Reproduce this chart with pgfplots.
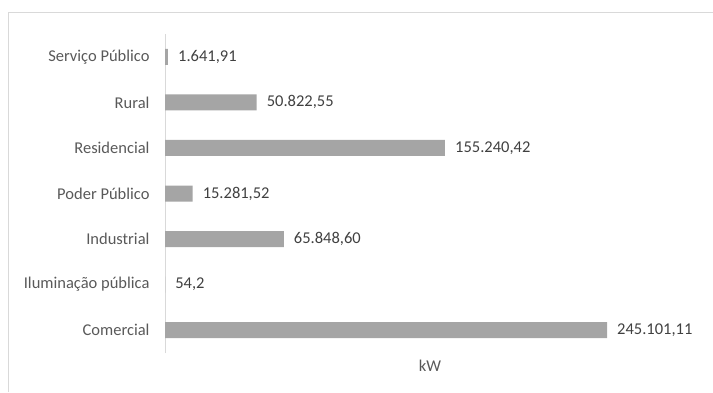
\documentclass[border=0pt]{standalone}
\usepackage{pgfplots}
\pgfplotsset{compat=1.18}
\usepackage{pgfplotstable}
\usepackage{fontspec}
\setmainfont{Carlito}
\definecolor{barc}{HTML}{A5A5A5}
\definecolor{axc}{HTML}{D9D9D9}
\definecolor{lblc}{HTML}{595959}
\definecolor{valc}{HTML}{404040}
\pgfplotstableread{
i v lab
0 245101.11 245.101,11
1 54.2 54,2
2 65848.60 65.848,60
3 15281.52 15.281,52
4 155240.42 155.240,42
5 50822.55 50.822,55
6 1641.91 1.641,91
}\datatab
\begin{document}
\begin{tikzpicture}[x=1bp,y=1bp]
\useasboundingbox (0,0) rectangle (713,392);
\draw[color=axc, line width=1bp] (8,0) -- (8,379) -- (713,379);
\begin{axis}[
  at={(165bp,39bp)}, anchor=south west,
  scale only axis,
  width=530bp, height=319bp,
  xmin=0, xmax=293900,
  ymin=-0.5, ymax=6.5,
  axis lines*=left,
  x axis line style={draw=none},
  y axis line style={color=axc, line width=1bp},
  xtick=\empty,
  ytick={0,1,2,3,4,5,6},
  yticklabels={Comercial,Iluminação pública,Industrial,Poder Público,Residencial,Rural,Serviço Público},
  major tick length=0pt,
  yticklabel style={font=\fontsize{16.5bp}{19bp}\selectfont, text=lblc, xshift=-12bp},
  xlabel={kW},
  xlabel style={at={(axis description cs:0.5,0)}, anchor=north, yshift=-4bp, font=\fontsize{16.5bp}{19bp}\selectfont, text=lblc},
  xbar, bar width=16bp,
  clip=false,
  nodes near coords,
  point meta=explicit symbolic,
  every node near coord/.append style={anchor=west, inner sep=0pt, xshift=10bp, font=\fontsize{16.5bp}{19bp}\selectfont, text=valc},
]
\addplot[fill=barc, draw=none] table[x=v, y=i, meta=lab] {\datatab};
\end{axis}
\end{tikzpicture}
\end{document}
